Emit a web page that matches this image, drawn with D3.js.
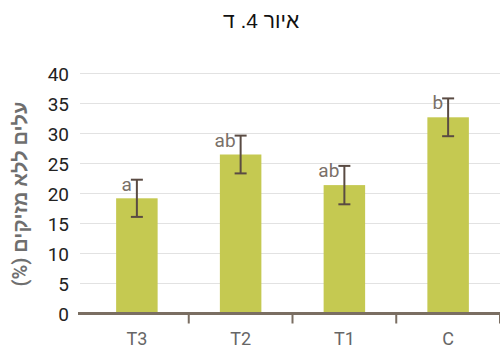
<!DOCTYPE html>
<html lang="he">
<head>
<meta charset="utf-8">
<script src="https://cdn.jsdelivr.net/npm/d3@7"></script>
<style>
  html, body { margin: 0; padding: 0; background: #fff; }
  svg { display: block; }
  text { font-family: Roboto, "Noto Sans", sans-serif; }
</style>
</head>
<body>
<svg id="chart" width="500" height="352"></svg>
<script>
// Treatments, in drawing order left to right
const categories = ["T3", "T2", "T1", "C"];
// Mean share of leaves without pests (%)
const values = [19.2, 26.5, 21.4, 32.7];
// Error (± half-range) per treatment
const errors = [3.1, 3.15, 3.2, 3.15];
// Statistical grouping letters
const letters = ["a", "ab", "ab", "b"];
// Y axis ticks
const yTicks = [0, 5, 10, 15, 20, 25, 30, 35, 40];

const RLM = "\u200F"; // keeps trailing punctuation inside the right-to-left run

const svg = d3.select("#chart");

const x = d3.scaleBand()
  .domain(categories)
  .range([85, 500])
  .paddingInner(0.6)
  .paddingOuter(0.3);

const y = d3.scaleLinear()
  .domain([0, 40])
  .range([313.5, 73.5]);

// Title, left-anchored at half its measured length before the centre line
const title = svg.append("text")
  .attr("x", 0)
  .attr("y", 28)
  .attr("text-anchor", "start")
  .style("font-family", "'Liberation Sans', Arial, sans-serif")
  .style("font-size", "21px")
  .style("fill", "#111")
  .text("איור 4. ד");
const titleLen = title.node().getComputedTextLength();
title.attr("x", 261 - titleLen / 2);

// Gridlines
svg.append("g")
  .selectAll("line")
  .data(yTicks.filter(d => d > 0))
  .join("line")
  .attr("x1", 80).attr("x2", 500)
  .attr("y1", d => y(d)).attr("y2", d => y(d))
  .attr("stroke", "#e2e2e2")
  .attr("stroke-width", 1.2);

// Y axis labels
const yAxis = d3.axisLeft(y).tickValues(yTicks).tickSize(0).tickPadding(0);
svg.append("g")
  .attr("transform", "translate(69,0)")
  .call(yAxis)
  .call(g => g.select(".domain").remove())
  .call(g => g.selectAll("text")
    .attr("dy", "0.35em")
    .style("font-size", "19px")
    .style("font-family", "Roboto, sans-serif")
    .style("fill", "#222"));

// Y axis title
svg.append("text")
  .attr("transform", "translate(27,194) rotate(-90)")
  .attr("text-anchor", "middle")
  .style("font-size", "20px")
  .style("font-weight", "bold")
  .style("fill", "#6f6f6f")
  .text(RLM + "עלים ללא מזיקים (%)" + RLM);

// Bars
svg.append("g")
  .selectAll("rect")
  .data(categories)
  .join("rect")
  .attr("x", d => x(d))
  .attr("width", x.bandwidth())
  .attr("y", (d, i) => y(values[i]))
  .attr("height", (d, i) => y(0) - y(values[i]))
  .attr("fill", "#c5c951");

// X axis
const xAxis = d3.axisBottom(x).tickSize(0).tickPadding(19);
const gx = svg.append("g")
  .attr("transform", `translate(0,${y(0)})`)
  .call(xAxis)
  .call(g => g.select(".domain").remove())
  .call(g => g.selectAll("text")
    .style("font-size", "18px")
    .style("font-family", "Roboto, sans-serif")
    .style("fill", "#666"));

gx.append("line")
  .attr("x1", 78).attr("x2", 500)
  .attr("y1", 0).attr("y2", 0)
  .attr("stroke", "#7a6e62")
  .attr("stroke-width", 3);

// Category boundary ticks
const step = x.step();
gx.selectAll(".sep")
  .data(categories)
  .join("line")
  .attr("class", "sep")
  .attr("x1", d => x(d) + x.bandwidth() / 2 + step / 2)
  .attr("x2", d => x(d) + x.bandwidth() / 2 + step / 2)
  .attr("y1", 0).attr("y2", 10)
  .attr("stroke", "#7a6e62")
  .attr("stroke-width", 2);

// Error bars
const eb = svg.append("g")
  .selectAll("g")
  .data(categories)
  .join("g")
  .attr("transform", d => `translate(${x(d) + x.bandwidth() / 2},0)`);

eb.append("line")
  .attr("y1", (d, i) => y(values[i] + errors[i]))
  .attr("y2", (d, i) => y(values[i] - errors[i]))
  .attr("stroke", "#5a4b43").attr("stroke-width", 2);
eb.append("line")
  .attr("x1", -6).attr("x2", 6)
  .attr("y1", (d, i) => y(values[i] + errors[i]))
  .attr("y2", (d, i) => y(values[i] + errors[i]))
  .attr("stroke", "#5a4b43").attr("stroke-width", 2);
eb.append("line")
  .attr("x1", -6).attr("x2", 6)
  .attr("y1", (d, i) => y(values[i] - errors[i]))
  .attr("y2", (d, i) => y(values[i] - errors[i]))
  .attr("stroke", "#5a4b43").attr("stroke-width", 2);

// Grouping letters
eb.append("text")
  .attr("x", -5)
  .attr("y", (d, i) => y(values[i] + errors[i]) + 11)
  .attr("text-anchor", "end")
  .style("font-size", "19px")
  .style("fill", "#7a7068")
  .text((d, i) => letters[i]);
</script>
</body>
</html>
